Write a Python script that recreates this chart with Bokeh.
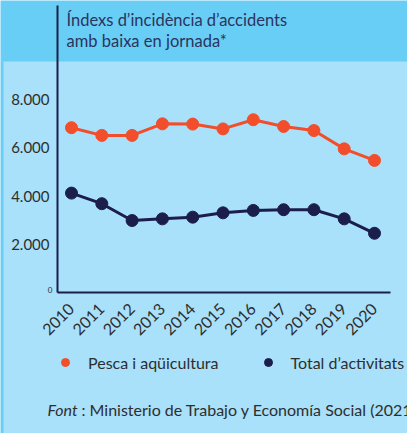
from bokeh.plotting import figure
from bokeh.models import (ColumnDataSource, BoxAnnotation, Label, Legend, LegendItem,
                          FixedTicker, Range1d, LinearAxis)
from bokeh.embed import file_html
from bokeh.resources import INLINE

years = [2010, 2011, 2012, 2013, 2014, 2015, 2016, 2017, 2018, 2019, 2020]
pesca = [6840, 6520, 6520, 7000, 6990, 6790, 7170, 6890, 6720, 5960, 5480]
total = [4120, 3680, 2980, 3050, 3120, 3300, 3400, 3430, 3430, 3050, 2450]
y_ticks = [0, 2000, 4000, 6000, 8000]
y_tick_labels = ["", "2.000", "4.000", "6.000", "8.000"]
series_names = ["Pesca i aqüicultura", "Total d’activitats"]
title_lines = ["Índexs d’incidència d’accidents", "amb baixa en jornada*"]
source_note = ": Ministerio de Trabajo y Economía Social (2021)"

ORANGE = "#F24E2B"
NAVY = "#1B1E4B"
BAND = "#69CEF5"
LIGHT = "#A9E0FA"
TXT = "#2E2E2E"
FONT = "Lato"

W, H = 407, 433
PX_YEAR = 30.3      # pixels per year
PX_VAL = 0.02405    # pixels per unit
X0, Y0 = 71, 291.7  # canvas position of (2010, 0)

p = figure(width=W, height=H, output_backend="svg", toolbar_location=None,
           x_axis_location=None, y_axis_location=None,
           x_range=Range1d(2010 - X0 / PX_YEAR, 2010 + (W - X0) / PX_YEAR),
           y_range=Range1d(-(H - Y0) / PX_VAL, Y0 / PX_VAL),
           min_border=0)
p.border_fill_color = LIGHT
p.background_fill_color = LIGHT
p.outline_line_color = None
p.grid.visible = False

# backgrounds
p.add_layout(BoxAnnotation(left=0, right=W, top=0, bottom=61,
                           left_units="canvas", right_units="canvas",
                           top_units="canvas", bottom_units="canvas",
                           fill_color=BAND, fill_alpha=1, line_color=None,
                           level="underlay"))
p.add_layout(BoxAnnotation(left=0, right=3, top=61, bottom=H,
                           left_units="canvas", right_units="canvas",
                           top_units="canvas", bottom_units="canvas",
                           fill_color=BAND, fill_alpha=1, line_color=None,
                           level="underlay"))

src = ColumnDataSource(dict(year=years, pesca=pesca, total=total))
p.line("year", "pesca", source=src, color=ORANGE, line_width=3)
r1 = p.scatter("year", "pesca", source=src, size=12, color=ORANGE)
p.line("year", "total", source=src, color=NAVY, line_width=3)
r2 = p.scatter("year", "total", source=src, size=12, color=NAVY)

# axes (fixed inside the frame)
x_left = 2010 - (X0 - 57) / PX_YEAR
x_right = 2010 + (390 - X0) / PX_YEAR
y_top = (Y0 - 5) / PX_VAL

xaxis = LinearAxis(fixed_location=0, bounds=(x_left, x_right),
                   ticker=FixedTicker(ticks=years),
                   major_label_orientation=0.785398, major_label_standoff=8)
yaxis = LinearAxis(fixed_location=x_left, bounds=(0, y_top),
                   ticker=FixedTicker(ticks=y_ticks),
                   major_label_overrides={t: l for t, l in zip(y_ticks, y_tick_labels)},
                   major_label_standoff=2)
for ax in (xaxis, yaxis):
    ax.axis_line_color = NAVY
    ax.axis_line_width = 2
    ax.major_tick_line_color = None
    ax.minor_tick_line_color = None
    ax.major_label_text_color = TXT
    ax.major_label_text_font = FONT
xaxis.major_label_text_font_size = "16px"
yaxis.major_label_text_font_size = "15px"
p.add_layout(xaxis, "below")
p.add_layout(yaxis, "left")

p.add_layout(Label(x=52, x_units="canvas", y=y_ticks[0], text="0",
                   text_align="right", text_baseline="middle", y_offset=2,
                   text_font=FONT, text_font_size="8px", text_color=TXT))

# title
p.add_layout(Label(x=66, y=19, x_units="canvas", y_units="canvas",
                   text=title_lines[0], text_baseline="middle",
                   text_font=FONT, text_font_size="16.5px", text_color="#2B3460"))
p.add_layout(Label(x=66, y=40, x_units="canvas", y_units="canvas",
                   text=title_lines[1], text_baseline="middle",
                   text_font=FONT, text_font_size="16.5px", text_color="#2B3460"))

# legend
legend = Legend(items=[LegendItem(label=series_names[0], renderers=[r1]),
                       LegendItem(label=series_names[1], renderers=[r2])],
                orientation="horizontal", location=(55, 61),
                background_fill_alpha=0, border_line_alpha=0,
                label_text_font=FONT, label_text_font_size="16px",
                label_text_color=TXT, glyph_width=20, glyph_height=20,
                label_height=20, label_standoff=13, spacing=39, padding=0, margin=0)
p.add_layout(legend)

# source
p.add_layout(Label(x=47, y=409, x_units="canvas", y_units="canvas",
                   text="Font", text_baseline="middle", text_font_style="italic",
                   text_font=FONT, text_font_size="16px", text_color=TXT))
p.add_layout(Label(x=81, y=409, x_units="canvas", y_units="canvas",
                   text=source_note, text_baseline="middle",
                   text_font=FONT, text_font_size="16px", text_color=TXT))

open("out.html", "w").write(file_html(p, INLINE))
